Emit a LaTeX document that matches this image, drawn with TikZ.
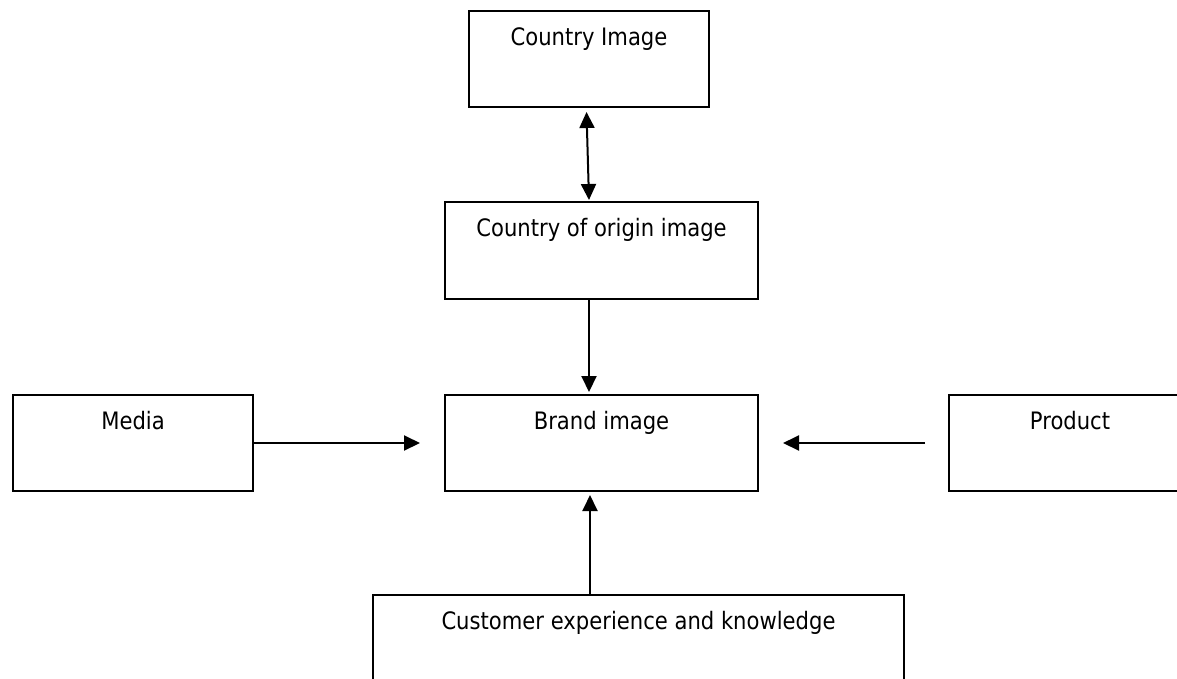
\documentclass[tikz,border=0pt]{standalone}
\usepackage{fontspec}
\setmainfont{DejaVu Sans}[FakeStretch=0.88]
\usetikzlibrary{arrows.meta}
\begin{document}
\begin{tikzpicture}[x=1pt,y=-1pt,
  box/.style={draw=black, line width=2pt, rectangle, inner sep=0pt, anchor=north west},
  lbl/.style={anchor=base, inner sep=0pt, font=\fontsize{24}{28}\selectfont},
  arr/.style={line width=2pt, -{Triangle[length=16pt,width=15pt]}},
  darr/.style={line width=2pt, {Triangle[length=16pt,width=15pt]}-{Triangle[length=16pt,width=15pt]}}]
\useasboundingbox (0,0) rectangle (1177,678);
\clip (0,0) rectangle (1177,678);
% boxes
\node[box, minimum width=240pt, minimum height=96pt] (ci) at (468,10) {};
\node[box, minimum width=313pt, minimum height=97pt] (coo) at (444,201) {};
\node[box, minimum width=313pt, minimum height=96pt] (brand) at (444,394) {};
\node[box, minimum width=240pt, minimum height=96pt] (media) at (12,394) {};
\node[box, minimum width=240pt, minimum height=96pt] (prod) at (948,394) {};
\node[box, minimum width=531pt, minimum height=120pt] (cust) at (372,594) {};
% labels
\node[lbl] (cit) at ([yshift=-35pt]ci.north) {Country Image};
\node[lbl] (coot) at ([yshift=-35pt]coo.north) {Country of origin image};
\node[lbl] (brandt) at ([yshift=-35pt]brand.north) {Brand image};
\node[lbl] (mediat) at ([yshift=-35pt]media.north) {Media};
\node[lbl] (prodt) at ([xshift=-120pt,yshift=-35pt]prod.north east) {Product};
\node[lbl] (custt) at ([yshift=-35pt]cust.north) {Customer experience and knowledge};
% connectors
\coordinate (d1) at ([xshift=-2.5pt,yshift=-4pt]ci.south);
\coordinate (d2) at ([yshift=1pt]coo.north -| ci.south);
\draw[darr] (d1) -- (d2);
\draw[arr] (coo.south -| ci.south) -- ([yshift=2pt]brand.north -| ci.south);
\draw[arr] (media.east) -- ([xshift=-24pt]brand.west);
\draw[arr] ([xshift=-23pt]prod.west) -- ([xshift=24pt]brand.east);
\draw[arr] ([xshift=1pt]cust.north -| ci.south) -- ([xshift=1pt,yshift=-3pt]brand.south -| ci.south);
\end{tikzpicture}
\end{document}
